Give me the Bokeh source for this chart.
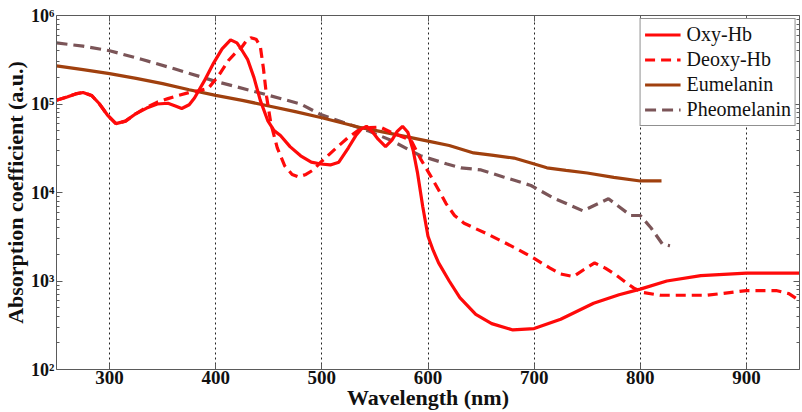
from bokeh.plotting import figure
from bokeh.models import (Range1d, FixedTicker, LinearAxis, LogAxis,
                          CustomJSTickFormatter, Legend, LegendItem)
from bokeh.embed import file_html
from bokeh.resources import INLINE

# ---------------- data ----------------
wl_oxy = [250, 260, 268, 275, 283, 290, 298, 306, 315, 325, 335, 345, 355, 362, 368,
          375, 380, 389, 398, 406, 414, 420, 425, 430, 436, 442, 449, 455, 461, 470,
          480, 490, 499, 508, 516, 525, 532, 537, 542, 548, 553, 560, 566, 571, 576,
          581, 586, 590, 595, 600, 605, 610, 620, 630, 645, 660, 680, 700, 725, 756,
          780, 800, 825, 857, 900, 950]
oxy_hb = [1.1e5, 1.2e5, 1.3e5, 1.35e5, 1.25e5, 1.02e5, 7.5e4, 6.0e4, 6.4e4, 7.8e4,
          9.0e4, 1.0e5, 1.02e5, 9.5e4, 8.9e4, 9.8e4, 1.17e5, 1.8e5, 2.9e5, 4.2e5,
          5.3e5, 4.9e5, 4.0e5, 3.2e5, 2.0e5, 1.1e5, 6.5e4, 5.0e4, 4.4e4, 3.3e4,
          2.6e4, 2.2e4, 2.1e4, 2.05e4, 2.2e4, 3.2e4, 4.4e4, 5.2e4, 5.6e4, 4.8e4,
          4.0e4, 3.3e4, 3.9e4, 4.9e4, 5.6e4, 4.8e4, 3.0e4, 1.7e4, 7.0e3, 3.2e3,
          2.2e3, 1.6e3, 1.0e3, 6.5e2, 4.2e2, 3.3e2, 2.8e2, 2.9e2, 3.7e2, 5.6e2,
          7.0e2, 8.1e2, 1.0e3, 1.15e3, 1.23e3, 1.23e3]

wl_deoxy = [250, 260, 268, 275, 283, 290, 298, 306, 315, 325, 335, 345, 355, 365, 375,
            385, 393, 400, 405, 412, 418, 424, 429, 433, 438, 442, 445, 448, 452, 458,
            465, 472, 478, 485, 492, 499, 507, 515, 524, 534, 545, 555, 565, 575, 584,
            593, 603, 612, 617, 625, 634, 645, 656, 670, 684, 700, 715, 725, 737, 747,
            757, 767, 778, 787, 794, 803, 819, 863, 900, 928, 940, 950]
deoxy_hb = [1.1e5, 1.2e5, 1.3e5, 1.35e5, 1.25e5, 1.02e5, 7.5e4, 6.0e4, 6.4e4, 7.8e4,
            9.2e4, 1.05e5, 1.15e5, 1.25e5, 1.35e5, 1.42e5, 1.5e5, 1.9e5, 2.3e5, 3.1e5,
            3.7e5, 4.3e5, 5.2e5, 5.6e5, 5.4e5, 4.5e5, 2.5e5, 1.2e5, 6.0e4, 3.2e4,
            2.0e4, 1.6e4, 1.5e4, 1.6e4, 1.8e4, 2.2e4, 2.7e4, 3.3e4, 4.1e4, 5.0e4,
            5.4e4, 5.5e4, 4.8e4, 4.3e4, 3.9e4, 2.4e4, 1.5e4, 9.7e3, 7.5e3, 5.5e3,
            4.5e3, 3.9e3, 3.4e3, 2.8e3, 2.3e3, 1.8e3, 1.4e3, 1.2e3, 1.12e3, 1.35e3,
            1.6e3, 1.4e3, 1.15e3, 9.5e2, 8.3e2, 7.4e2, 6.9e2, 6.9e2, 7.8e2, 7.8e2,
            7.2e2, 6.0e2]

wl_eu = [250, 275, 300, 325, 350, 375, 400, 425, 450, 475, 500, 537, 570, 600, 620,
         643, 660, 681, 697, 712, 730, 750, 775, 800, 820]
eumelanin = [2.7e5, 2.45e5, 2.2e5, 1.95e5, 1.7e5, 1.45e5, 1.25e5, 1.1e5, 9.5e4, 8.2e4,
             7.0e4, 5.4e4, 4.5e4, 3.8e4, 3.4e4, 2.8e4, 2.65e4, 2.45e4, 2.15e4, 1.9e4,
             1.78e4, 1.66e4, 1.48e4, 1.35e4, 1.35e4]

wl_pheo = [250, 275, 300, 330, 361, 400, 440, 480, 499, 520, 543, 565, 593, 618, 631,
           650, 671, 697, 718, 746, 770, 791, 800, 810, 821, 828]
pheomelanin = [4.9e5, 4.5e5, 4.0e5, 3.2e5, 2.5e5, 1.8e5, 1.35e5, 1.0e5, 7.6e4, 6.2e4,
               5.0e4, 3.9e4, 2.6e4, 2.1e4, 1.9e4, 1.8e4, 1.5e4, 1.2e4, 8.7e3, 6.2e3,
               8.5e3, 5.5e3, 5.5e3, 4.0e3, 2.6e3, 2.5e3]

x_ticks = [300, 400, 500, 600, 700, 800, 900]
y_ticks = [1e2, 1e3, 1e4, 1e5, 1e6]
y_minor = [k * t for t in y_ticks[:-1] for k in range(2, 10)]

series_names = ["Oxy-Hb", "Deoxy-Hb", "Eumelanin", "Pheomelanin"]

# ---------------- styling ----------------
RED = "#ff0a0a"
BROWN = "#a0400e"
MAUVE = "#7b5558"
FONT = "Liberation Serif"
AX = "#5a5a5a"

p = figure(width=802, height=412,
           x_range=Range1d(250, 950), y_range=Range1d(1e2, 1e6),
           y_axis_type="log", output_backend="svg", toolbar_location=None,
           min_border_left=55, min_border_right=3, min_border_top=15,
           min_border_bottom=0)
p.background_fill_color = "white"
p.border_fill_color = "white"
p.outline_line_color = None

xt = FixedTicker(ticks=x_ticks, minor_ticks=[])
yt = FixedTicker(ticks=y_ticks, minor_ticks=y_minor)

sup_fmt = CustomJSTickFormatter(code="""
const sup = {'0':'\u2070','1':'\u00b9','2':'\u00b2','3':'\u00b3','4':'\u2074',
             '5':'\u2075','6':'\u2076','7':'\u2077','8':'\u2078','9':'\u2079','-':'\u207b'};
const e = Math.round(Math.log10(tick));
return '10' + String(e).split('').map(c => sup[c]).join('');
""")
blank_fmt = CustomJSTickFormatter(code="return ' ';")

def style_axis(ax, show_labels=True):
    ax.axis_line_color = AX
    ax.axis_line_width = 1
    ax.major_tick_line_color = AX
    ax.minor_tick_line_color = AX
    ax.major_tick_in = 6
    ax.major_tick_out = 0
    ax.minor_tick_in = 3
    ax.minor_tick_out = 0
    if show_labels:
        ax.major_label_text_font = FONT
        ax.major_label_text_font_style = "bold"
        ax.major_label_text_font_size = "19px"
        ax.major_label_text_color = "#111111"
        ax.axis_label_text_font = FONT
        ax.axis_label_text_font_style = "bold"
        ax.axis_label_text_color = "#111111"
    else:
        ax.formatter = blank_fmt
        ax.major_label_text_font_size = "1px"
        ax.major_label_text_alpha = 0
        ax.major_label_standoff = 0

xa = p.xaxis[0]
xa.ticker = xt
xa.axis_label = "Wavelength (nm)"
style_axis(xa)
xa.axis_label_text_font_size = "22px"
xa.major_label_standoff = 1
xa.axis_label_standoff = -2

ya = p.yaxis[0]
ya.ticker = yt
ya.formatter = sup_fmt
ya.axis_label = "Absorption coefficient (a.u.)"
style_axis(ya)
ya.major_label_text_font_size = "18px"
ya.axis_label_text_font_size = "22px"
ya.major_label_standoff = 2
ya.axis_label_standoff = 0

top = LinearAxis(ticker=xt)
style_axis(top, show_labels=False)
p.add_layout(top, "above")
right = LogAxis(ticker=yt)
style_axis(right, show_labels=False)
p.add_layout(right, "right")

p.xgrid.ticker = xt
p.xgrid.grid_line_color = "#222222"
p.xgrid.grid_line_dash = "2 3"
p.xgrid.grid_line_width = 1
p.ygrid.grid_line_color = None

r_pheo = p.line(wl_pheo, pheomelanin, line_color=MAUVE, line_width=3.2, line_dash="11 6")
r_eu = p.line(wl_eu, eumelanin, line_color=BROWN, line_width=3.2)
r_deoxy = p.line(wl_deoxy, deoxy_hb, line_color=RED, line_width=3.2, line_dash="10 6")
r_oxy = p.line(wl_oxy, oxy_hb, line_color=RED, line_width=3.2)

legend = Legend(items=[LegendItem(label=series_names[0], renderers=[r_oxy]),
                       LegendItem(label=series_names[1], renderers=[r_deoxy]),
                       LegendItem(label=series_names[2], renderers=[r_eu]),
                       LegendItem(label=series_names[3], renderers=[r_pheo])],
                location="top_right", margin=3, padding=4, spacing=2,
                glyph_width=36, glyph_height=21, label_height=21, label_standoff=6,
                label_text_font=FONT, label_text_font_size="20px",
                label_text_color="#111111",
                border_line_color="#222222", border_line_width=1,
                background_fill_color="white", background_fill_alpha=1)
p.add_layout(legend)

open("out.html", "w").write(file_html(p, INLINE))
